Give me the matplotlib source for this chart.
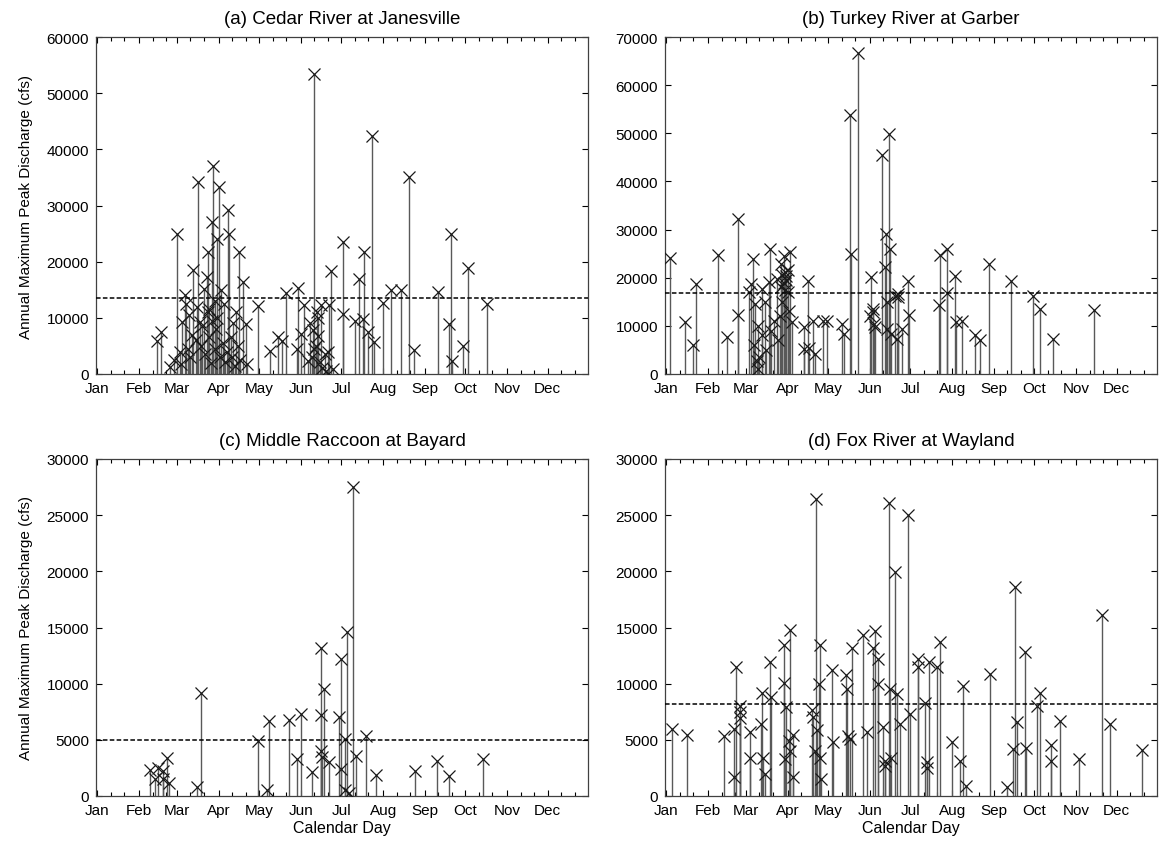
import numpy as np
import matplotlib
matplotlib.use('Agg')
import matplotlib.pyplot as plt

plt.rcParams['font.family'] = ['Liberation Sans', 'DejaVu Sans']

months = ['Jan', 'Feb', 'Mar', 'Apr', 'May', 'Jun', 'Jul', 'Aug', 'Sep', 'Oct', 'Nov', 'Dec']
month_start = [1, 32, 60, 91, 121, 152, 182, 213, 244, 274, 305, 335]

# (a) Cedar River at Janesville
cedar_day = [45, 48, 55, 60, 62, 64, 66, 67, 72, 76, 77, 80, 82, 83, 83, 86, 87, 90, 91, 93,
             98, 99, 106, 109, 111, 120, 129, 135, 138, 141, 149, 150, 152, 154, 157, 162, 164,
             165, 167, 172, 173, 174, 176, 183, 183, 192, 195, 198, 199, 202, 205, 206, 213,
             219, 226, 232, 236, 254, 263, 262, 264, 272, 276, 290,
             58, 63, 68, 70, 74, 78, 81, 84, 85, 88, 89, 92, 94, 96, 97, 100, 101, 103, 105,
             107, 112, 160, 161, 163, 166, 168, 170, 171,
             69, 71, 75, 79, 84, 86, 88, 90, 95, 102, 104, 159, 162, 165]
cedar_q = [5800, 7400, 1200, 25000, 3900, 9300, 14100, 12500, 18500, 34200, 9200, 15200, 17300,
           11000, 21700, 27100, 37000, 24100, 33300, 14900, 29200, 25000, 21700, 16400, 8900,
           12100, 4100, 6500, 5900, 14500, 4500, 15300, 7100, 12200, 2400, 53400, 11000, 6800,
           12200, 3900, 12200, 18300, 900, 23500, 10700, 9500, 17000, 9800, 21700, 7400, 42300,
           5700, 12700, 14900, 14900, 35000, 4300, 14600, 25000, 8900, 2400, 4900, 18900, 12500,
           2500, 1800, 4500, 3000, 6000, 5000, 3500, 6500, 2000, 4500, 8000, 3000, 5500, 2200,
           4000, 6500, 3000, 1500, 5000, 2500, 1800, 3000, 7800, 5000, 2200, 1000, 3500, 600,
           10500, 7000, 12000, 8500, 11500, 9500, 13000, 10000, 12500, 9000, 11000, 9000, 4500,
           10000]

# (b) Turkey River at Garber
turkey_day = [4, 15, 21, 23, 39, 46, 54, 54, 62, 64, 65, 67, 68, 69, 72, 74, 77, 78, 81, 83, 86,
              88, 88, 89, 90, 93, 94, 103, 103, 106, 107, 110, 111, 117, 120, 131, 133, 137, 138,
              143, 152, 153, 154, 154, 155, 156, 161, 163, 164, 165, 165, 166, 167, 168, 171, 172,
              173, 173, 176, 180, 181, 203, 204, 209, 209, 215, 216, 220, 230, 234, 240, 257, 273,
              278, 288, 318,
              66, 70, 72, 75, 79, 84, 85, 87, 91, 92, 69, 86, 87, 89, 90, 91]
turkey_q = [24000, 10900, 6000, 18700, 24700, 7600, 32200, 12300, 17000, 18700, 23800, 14500, 2800,
            10000, 17700, 14900, 19100, 26000, 11100, 19700, 22900, 24600, 19000, 21100, 20400,
            25300, 10700, 9700, 5200, 19400, 5500, 11100, 4200, 11100, 11100, 10400, 8300, 53700,
            25000, 66700, 12100, 20100, 13500, 12800, 10400, 9700, 45400, 22200, 29100, 14900,
            9400, 49900, 26000, 8300, 16300, 7300, 16600, 15900, 9400, 19400, 12300, 14300, 24700,
            26000, 16800, 20300, 10700, 11100, 8100, 7100, 22900, 19400, 16100, 13500, 7300, 13200,
            6000, 3500, 8000, 5000, 9000, 7000, 12000, 15000, 17000, 13000, 1000,
            18000, 20500, 17500, 19500, 21500]

# (c) Middle Raccoon at Bayard
raccoon_day = [40, 44, 46, 50, 50, 53, 54, 75, 78, 120, 127, 128, 143, 149, 152, 160, 167, 167, 169,
               167, 168, 173, 180, 182, 182, 186, 185, 185, 188, 191, 193, 200, 208, 237, 253, 262,
               287]
raccoon_q = [2300, 1500, 2500, 2200, 1500, 3400, 1200, 800, 9200, 4900, 500, 6700, 6800, 3300, 7300,
             2100, 13200, 7200, 9500, 4000, 3500, 3000, 7000, 12200, 2400, 14600, 5100, 500, 300,
             27500, 3600, 5300, 1900, 2200, 3100, 1800, 3300]

# (d) Fox River at Wayland
fox_day = [5, 16, 44, 51, 51, 53, 56, 56, 56, 63, 63, 71, 72, 73, 74, 78, 79, 88, 88, 90, 89, 93,
           92, 93, 95, 95, 109, 110, 111, 112, 115, 114, 115, 113, 116, 125, 124, 134, 135, 137,
           136, 139, 147, 150, 156, 154, 158, 158, 162, 163, 163, 166, 167, 168, 171, 172, 174,
           180, 182, 188, 188, 193, 194, 194, 196, 202, 204, 213, 219, 221, 223, 241, 254, 260,
           261, 258, 267, 268, 276, 278, 286, 286, 293, 307, 324, 330, 354]
fox_q = [6000, 5400, 5300, 6000, 1700, 11500, 8000, 7500, 6900, 5700, 3400, 6400, 9200, 3400, 2000,
         11900, 8800, 13400, 10100, 7900, 3300, 14800, 4900, 4000, 5400, 1700, 7700, 7000, 4000,
         26400, 13400, 10000, 3400, 5900, 1500, 4800, 11200, 10800, 9500, 5100, 5300, 13200, 14300,
         5700, 14700, 13200, 12200, 10000, 6100, 3100, 2700, 26100, 9500, 3400, 19900, 9100, 6400,
         25000, 7300, 12200, 11500, 8300, 3000, 2500, 11900, 11500, 13700, 4800, 3100, 9800, 900,
         10900, 800, 18600, 6600, 4200, 12800, 4300, 8000, 9200, 4500, 3100, 6700, 3300, 16100,
         6400, 4100]

titles = ['(a) Cedar River at Janesville', '(b) Turkey River at Garber',
          '(c) Middle Raccoon at Bayard', '(d) Fox River at Wayland']
mean_q = [13500, 16800, 5000, 8200]
ymax = [60000, 70000, 30000, 30000]
ystep = [10000, 10000, 5000, 5000]
series = [(cedar_day, cedar_q), (turkey_day, turkey_q), (raccoon_day, raccoon_q), (fox_day, fox_q)]

W_px, H_px = 1159, 845
fig = plt.figure(figsize=(W_px / 100, H_px / 100), dpi=100)
corners = [(96, 38), (665, 38), (96, 460), (665, 460)]
aw, ah = 492, 337

minor = []
bounds = month_start + [366]
for i in range(12):
    minor += [bounds[i] + 10, bounds[i] + 20]

for k in range(4):
    x0, y0 = corners[k]
    ax = fig.add_axes([x0 / W_px, 1 - (y0 + ah) / H_px, aw / W_px, ah / H_px])
    d, q = series[k]
    ax.vlines(d, 0, q, colors='0.35', lw=1.0, zorder=2)
    ax.plot(d, q, 'x', color='0.1', ms=8.5, mew=0.9, zorder=3)
    ax.axhline(mean_q[k], color='black', lw=1.1, ls=(0, (3, 1.5)), zorder=4)
    ax.set_xlim(0, 365)
    ax.set_ylim(0, ymax[k])
    ax.set_xticks(month_start)
    ax.set_xticklabels(months)
    ax.set_xticks(minor, minor=True)
    ax.set_yticks(np.arange(0, ymax[k] + 1, ystep[k]))
    ax.tick_params(direction='in', top=True, right=True, labelsize=11, length=4, width=0.8, pad=5)
    ax.tick_params(which='minor', direction='in', top=True, bottom=True, length=3, width=0.8)
    for s in ax.spines.values():
        s.set_linewidth(0.9)
        s.set_color('0.25')
    ax.set_title(titles[k], fontsize=13.5, pad=10)
    if k % 2 == 0:
        ax.set_ylabel('Annual Maximum Peak Discharge (cfs)', fontsize=11, labelpad=10)
    if k >= 2:
        ax.set_xlabel('Calendar Day', fontsize=11.5, labelpad=2)

fig.savefig('out.png', dpi=100)
